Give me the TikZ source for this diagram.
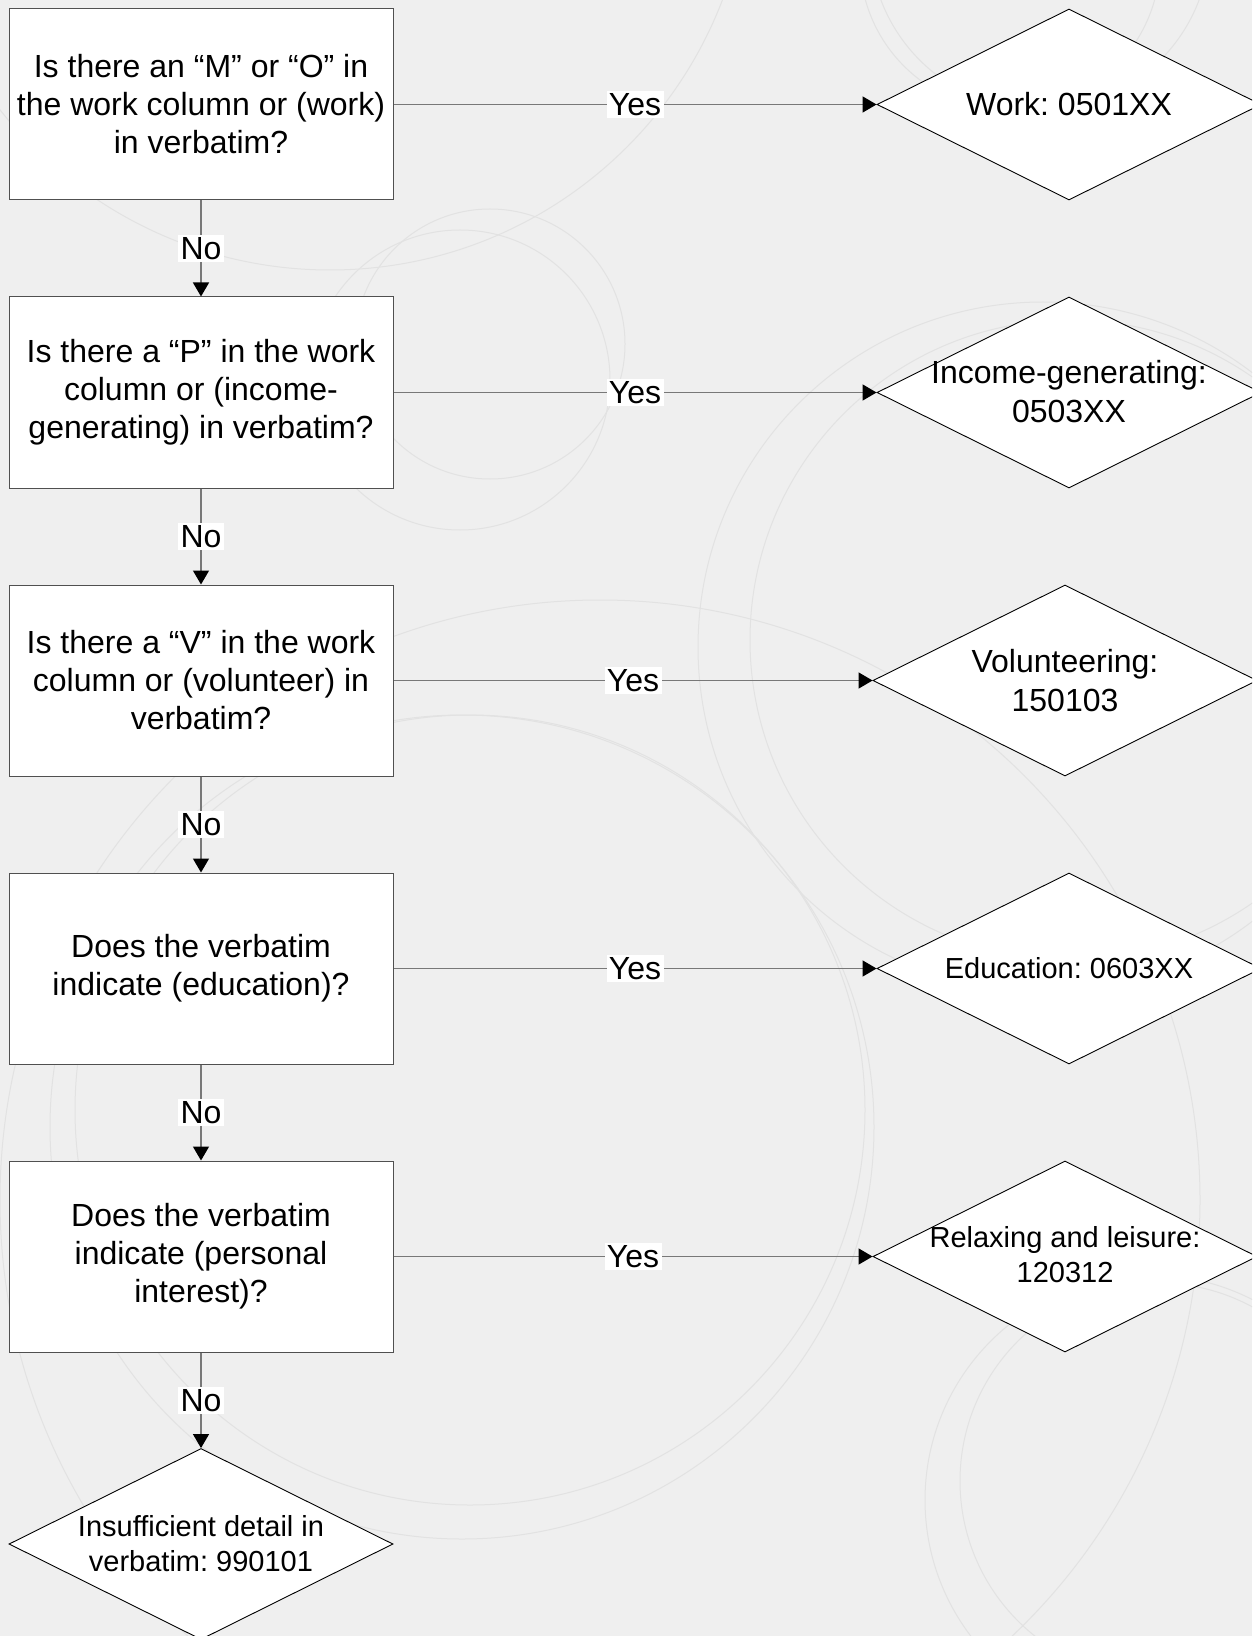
\documentclass[tikz,border=0pt]{standalone}
\usepackage{fontspec}
\setmainfont{Liberation Sans}
\usetikzlibrary{shapes.geometric,arrows.meta}
\definecolor{bgcol}{RGB}{239,239,239}
\definecolor{circcol}{RGB}{226,226,226}
\definecolor{linecol}{RGB}{120,120,120}
\definecolor{boxline}{RGB}{80,80,80}
\tikzset{
  qbox/.style={draw=boxline, line width=0.5pt, fill=white, minimum width=192pt, minimum height=95.5pt, inner sep=0pt, align=center, font=\fontsize{16}{19}\selectfont},
  dia/.style={diamond, draw=black, line width=0.45pt, fill=white, minimum width=192pt, minimum height=95.5pt, inner sep=0pt},
  dtext/.style={align=center, font=\fontsize{16}{19.3}\selectfont, inner sep=0pt},
  dsmall/.style={align=center, font=\fontsize{14.5}{17.4}\selectfont, inner sep=0pt},
  conn/.style={draw=linecol, line width=0.7pt, -{Triangle[length=7pt,width=8pt,black]}},
  lbl/.style={fill=white, inner sep=1.2pt, font=\fontsize{16}{18}\selectfont, text=black},
  deco/.style={draw=circcol, line width=0.5pt}
}
\begin{document}
\frenchspacing
\begin{tikzpicture}[x=0.5pt, y=-0.5pt]
\useasboundingbox (0,0) rectangle (1252,1636);
\clip (0,0) rectangle (1252,1636);
\fill[bgcol] (0,0) rectangle (1252,1636);
% faint background circles
\draw[deco] (462,1127) circle[radius=412];
\draw[deco] (470,1110) circle[radius=395];
\draw[deco] (1043,647) circle[radius=345];
\draw[deco] (1070,640) circle[radius=320];
\draw[deco] (490,344) circle[radius=135];
\draw[deco] (460,380) circle[radius=150];
\draw[deco] (1010,-40) circle[radius=150];
\draw[deco] (1040,-60) circle[radius=170];
\draw[deco] (1158,1481) circle[radius=198];
\draw[deco] (1150,1500) circle[radius=225];
\draw[deco] (330,-150) circle[radius=420];
\draw[deco] (600,1200) circle[radius=600];
% question boxes
\node[qbox] (b1) at (201,104.5) {Is there an “M” or “O” in\\the work column or (work)\\in verbatim?};
\node[qbox] (b2) at (201,392.5) {Is there a “P” in the work\\column or (income-\\generating) in verbatim?};
\node[qbox] (b3) at (201,680.5) {Is there a “V” in the work\\column or (volunteer) in\\verbatim?};
\node[qbox] (b4) at (201,968.5) {Does the verbatim\\indicate (education)?};
\node[qbox] (b5) at (201,1256.5) {Does the verbatim\\indicate (personal\\interest)?};
% result diamonds
\node[dia] (d1) at (1069,104.5) {};
\node[dia] (d2) at (1069,392.5) {};
\node[dia] (d3) at (1065,680.5) {};
\node[dia] (d4) at (1069,968.5) {};
\node[dia] (d5) at (1065,1256.5) {};
\node[dia] (d6) at (201,1544) {};
\node[dtext] (t1) at (d1) {Work: 0501XX};
\node[dtext] (t2) at ([yshift=0.5pt]d2) {Income-generating:\\0503XX};
\node[dtext] (t3) at (d3) {Volunteering:\\150103};
\node[dsmall] (t4) at (d4) {Education: 0603XX};
\node[dsmall] (t5) at ([yshift=1pt]d5) {Relaxing and leisure:\\120312};
\node[dsmall] (t6) at (d6) {Insufficient detail in\\verbatim: 990101};
% connectors
\draw[conn] (b1.east) -- node[lbl]{Yes} (d1.west);
\draw[conn] (b2.east) -- node[lbl]{Yes} (d2.west);
\draw[conn] (b3.east) -- node[lbl]{Yes} (d3.west);
\draw[conn] (b4.east) -- node[lbl]{Yes} (d4.west);
\draw[conn] (b5.east) -- node[lbl]{Yes} (d5.west);
\draw[conn] (b1.south) -- node[lbl]{No} (b2.north);
\draw[conn] (b2.south) -- node[lbl]{No} (b3.north);
\draw[conn] (b3.south) -- node[lbl]{No} (b4.north);
\draw[conn] (b4.south) -- node[lbl]{No} (b5.north);
\draw[conn] (b5.south) -- node[lbl]{No} (d6.north);
\end{tikzpicture}
\end{document}
